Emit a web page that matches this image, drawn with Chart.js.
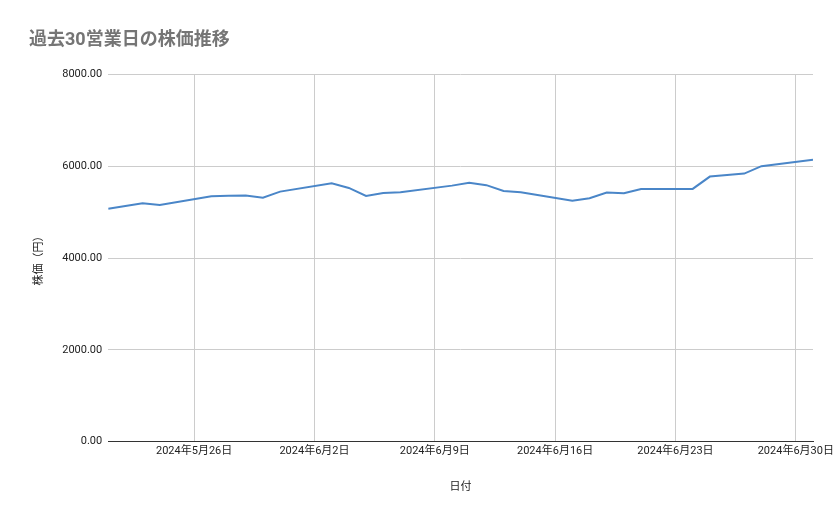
<!DOCTYPE html>
<html><head><meta charset="utf-8">
<script src="https://cdn.jsdelivr.net/npm/chart.js@4"></script>
<style>html,body{margin:0;padding:0;background:#fff}#w{width:839px;height:519px}</style>
</head><body><div id="w"><canvas id="c"></canvas></div>
<script>
const dates = ["2024-05-21","2024-05-22","2024-05-23","2024-05-24","2024-05-27","2024-05-28","2024-05-29","2024-05-30","2024-05-31",
"2024-06-03","2024-06-04","2024-06-05","2024-06-06","2024-06-07","2024-06-10","2024-06-11","2024-06-12","2024-06-13","2024-06-14",
"2024-06-17","2024-06-18","2024-06-19","2024-06-20","2024-06-21","2024-06-24","2024-06-25","2024-06-26","2024-06-27","2024-06-28","2024-07-01"];
const prices = [5078,5137,5196,5158,5349,5360,5365,5318,5449,
5633,5530,5355,5421,5436,5580,5640,5590,5465,5436,
5253,5305,5428,5414,5508,5508,5777,5810,5843,6004,6142];
const tickDates = ["2024-05-26","2024-06-02","2024-06-09","2024-06-16","2024-06-23","2024-06-30"];
const yTicks = [0,2000,4000,6000,8000];
const base = Date.UTC(2024,4,21);
const day = s => { const [y,m,d]=s.split('-').map(Number); return (Date.UTC(y,m-1,d)-base)/86400000; };
const label = s => { const [y,m,d]=s.split('-').map(Number); return y+'年'+m+'月'+d+'日'; };
const F = "Roboto, 'Noto Sans CJK JP', sans-serif";
new Chart(document.getElementById('c'), {
  type:'line',
  data:{datasets:[{data:dates.map((d,i)=>({x:day(d),y:prices[i]})),borderColor:'#4a86c8',borderWidth:2,pointRadius:0,tension:0}]},
  options:{responsive:true,maintainAspectRatio:false,animation:false,
    layout:{padding:{left:29,right:26,top:16,bottom:21}},
    plugins:{legend:{display:false},tooltip:{enabled:false},
      title:{display:true,text:'過去30営業日の株価推移',align:'start',color:'#757575',font:{family:F,size:18},padding:{top:14,bottom:23}}},
    scales:{
      x:{type:'linear',min:0,max:day("2024-07-01"),
        afterBuildTicks:a=>{a.ticks=tickDates.map(d=>({value:day(d)}));},
        ticks:{callback:(v)=>{const t=tickDates.find(d=>day(d)===v);return t?label(t):'';},color:'#222',font:{family:F,size:11},maxRotation:0,autoSkip:false},
        grid:{color:'#cccccc',drawTicks:false,tickLength:6},border:{color:'#333'},
        title:{display:true,text:'日付',color:'#222',font:{family:F,size:11},padding:{top:20}}},
      y:{min:0,max:8000,afterBuildTicks:a=>{a.ticks=yTicks.map(v=>({value:v}));},
        ticks:{callback:v=>v.toFixed(2),color:'#222',font:{family:F,size:11},padding:6},
        grid:{color:'#cccccc',drawTicks:false},border:{display:false},
        title:{display:true,text:'株価（円）',color:'#222',font:{family:F,size:11},padding:{bottom:10}}}
    }}
});
</script></body></html>
